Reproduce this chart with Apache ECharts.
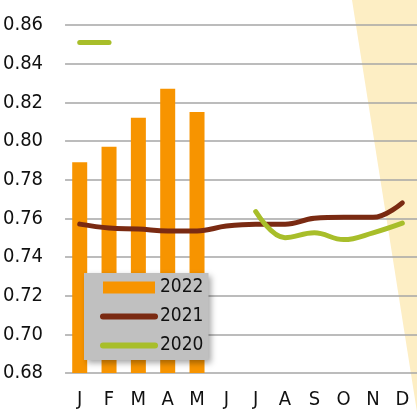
<!DOCTYPE html>
<html>
<head>
<meta charset="utf-8">
<script src="https://cdn.jsdelivr.net/npm/echarts@6/dist/echarts.min.js"></script>
<style>
  html, body { margin: 0; padding: 0; background: #fff; }
  #chart { width: 417px; height: 412px; }
</style>
</head>
<body>
<div id="chart"></div>
<script>
const months = ['J', 'F', 'M', 'A', 'M', 'J', 'J', 'A', 'S', 'O', 'N', 'D'];
const y2022 = [0.789, 0.797, 0.812, 0.827, 0.815, null, null, null, null, null, null, null];
const y2021 = [0.757, 0.755, 0.7545, 0.7535, 0.7535, 0.756, 0.757, 0.757, 0.760, 0.7605, 0.7605, 0.768];
const y2020 = [null, null, null, null, null, null, 0.7635, 0.750, 0.7525, 0.749, 0.7525, 0.7575];
// short green dash near the top left (month index, value)
const dash2020 = [[0, 0.851], [1, 0.851]];

const font = '"Liberation Sans Narrow", "Arial Narrow", "DejaVu Sans Condensed", sans-serif';
const chart = echarts.init(document.getElementById('chart'), null, { renderer: 'canvas' });

option = {
  animation: false,
  grid: { left: 65, right: -2, top: 25, bottom: 39 },
  graphic: [
    {
      type: 'polygon',
      z: -10,
      silent: true,
      shape: { points: [[352, 0], [417, 0], [417, 412]] },
      style: { fill: '#fdeec4' }
    }
  ],
  legend: {
    orient: 'vertical',
    left: 84,
    top: 273,
    padding: [5, 5, 5, 16],
    itemWidth: 52,
    itemHeight: 12,
    itemGap: 10,
    backgroundColor: '#c0c0c0',
    shadowColor: 'rgba(0,0,0,0.35)',
    shadowBlur: 6,
    shadowOffsetX: 3,
    shadowOffsetY: 3,
    textStyle: { fontFamily: font, fontSize: 19, color: '#111' },
    data: [
      { name: '2022', icon: 'rect' },
      { name: '2021', itemStyle: { opacity: 0 }, lineStyle: { width: 6, cap: 'round' } },
      { name: '2020', itemStyle: { opacity: 0 }, lineStyle: { width: 6, cap: 'round' } }
    ]
  },
  xAxis: {
    type: 'category',
    data: months,
    axisLine: { show: false },
    axisTick: { show: false },
    axisLabel: { fontFamily: font, fontSize: 20, color: '#111', margin: 17 }
  },
  yAxis: {
    type: 'value',
    min: 0.68,
    max: 0.86,
    interval: 0.02,
    axisLine: { show: false },
    axisTick: { show: false },
    axisLabel: {
      fontFamily: font, fontSize: 20, color: '#111', margin: 22,
      formatter: v => v.toFixed(2)
    },
    splitLine: { lineStyle: { color: '#a6a6a6', width: 1.5 } }
  },
  series: [
    {
      name: '2022',
      type: 'bar',
      data: y2022,
      barWidth: 15,
      itemStyle: { color: '#f79400' }
    },
    {
      name: '2021',
      type: 'line',
      data: y2021,
      smooth: 0.4,
      symbol: 'none',
      color: '#7a2a12',
      lineStyle: { width: 5, cap: 'round', color: '#7a2a12' }
    },
    {
      name: '2020',
      type: 'line',
      data: y2020,
      smooth: 0.4,
      symbol: 'none',
      color: '#a8be2a',
      lineStyle: { width: 5, cap: 'round', color: '#a8be2a' },
      markLine: {
        silent: true,
        symbol: 'none',
        label: { show: false },
        lineStyle: { type: 'solid', width: 5, cap: 'round', color: '#a8be2a' },
        data: [[{ coord: dash2020[0] }, { coord: dash2020[1] }]]
      }
    }
  ]
};

chart.setOption(option);
</script>
</body>
</html>
